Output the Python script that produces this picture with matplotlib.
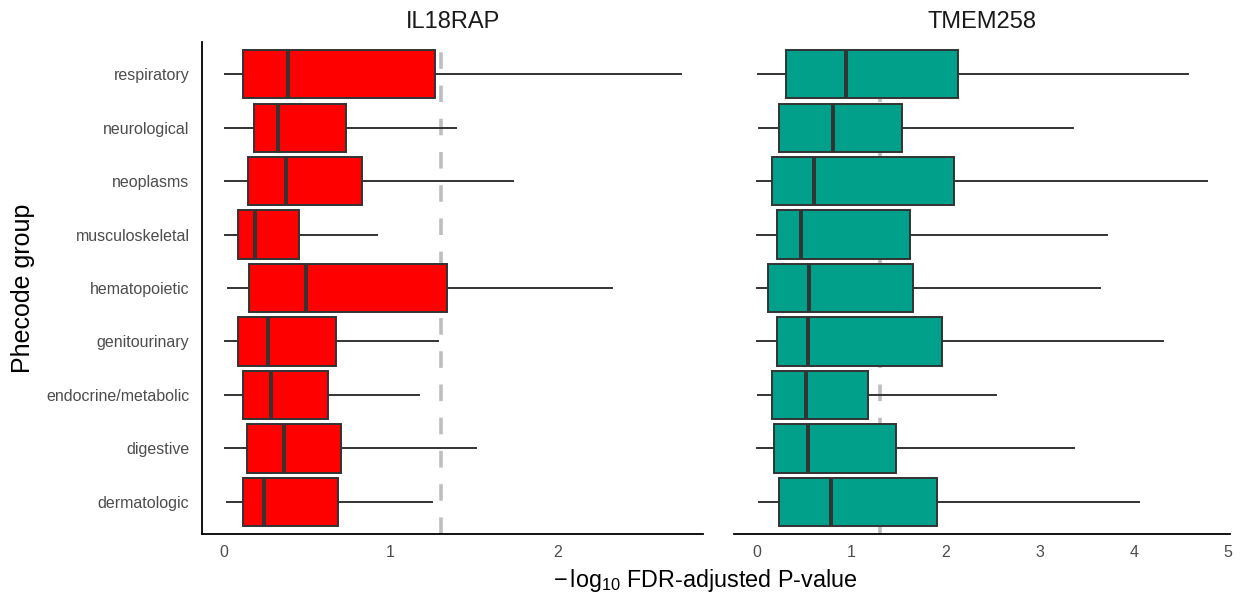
import matplotlib
matplotlib.use("Agg")
import matplotlib.pyplot as plt

plt.rcParams['font.family'] = ['Liberation Sans', 'DejaVu Sans']
plt.rcParams['mathtext.fontset'] = 'custom'
plt.rcParams['mathtext.rm'] = 'Liberation Sans'
plt.rcParams['mathtext.it'] = 'Liberation Sans:italic'
plt.rcParams['mathtext.bf'] = 'Liberation Sans:bold'

categories = ["dermatologic", "digestive", "endocrine/metabolic", "genitourinary",
              "hematopoietic", "musculoskeletal", "neoplasms", "neurological", "respiratory"]

panels = ["IL18RAP", "TMEM258"]

# IL18RAP summary statistics (order as categories, bottom to top)
il18_lo  = [0.019, 0.009, 0.009, 0.009, 0.027, 0.009, 0.009, 0.009, 0.009]
il18_q1  = [0.115, 0.142, 0.115, 0.085, 0.153, 0.085, 0.148, 0.181, 0.117]
il18_med = [0.240, 0.364, 0.284, 0.266, 0.492, 0.188, 0.376, 0.327, 0.384]
il18_q3  = [0.684, 0.703, 0.626, 0.672, 1.336, 0.454, 0.831, 0.731, 1.266]
il18_hi  = [1.246, 1.512, 1.172, 1.284, 2.324, 0.917, 1.735, 1.390, 2.740]

# TMEM258 summary statistics
tm_lo  = [0.018, 0.000, 0.004, 0.000, 0.000, 0.000, 0.000, 0.018, 0.004]
tm_q1  = [0.231, 0.177, 0.153, 0.213, 0.117, 0.213, 0.156, 0.227, 0.305]
tm_med = [0.786, 0.542, 0.514, 0.542, 0.546, 0.461, 0.599, 0.804, 0.943]
tm_q3  = [1.913, 1.474, 1.180, 1.963, 1.658, 1.619, 2.094, 1.538, 2.130]
tm_hi  = [4.056, 3.369, 2.533, 4.315, 3.645, 3.720, 4.779, 3.358, 4.577]

threshold = 1.30103  # -log10(0.05)
colors = ["#FF0000", "#00A08A"]
xticks_left = [0, 1, 2]
xticks_right = [0, 1, 2, 3, 4, 5]

W, H = 1252, 599
fig = plt.figure(figsize=(W / 100, H / 100), dpi=100)

def frac(x0, x1, y_top, y_bot):
    return [x0 / W, 1 - y_bot / H, (x1 - x0) / W, (y_bot - y_top) / H]

ax1 = fig.add_axes(frac(202, 703, 42, 534))
ax2 = fig.add_axes(frac(734, 1230, 42, 534))

edge = "#333333"

def draw(ax, lo, q1, med, q3, hi, color, xlim, xticks):
    stats = []
    for i, c in enumerate(categories):
        stats.append(dict(med=med[i], q1=q1[i], q3=q3[i], whislo=lo[i], whishi=hi[i],
                          fliers=[], label=c))
    ax.axvline(threshold, color="#BEBEBE", lw=2.6, linestyle=(0, (4.6, 4.6)), zorder=0.5)
    ax.bxp(stats, positions=range(1, len(categories) + 1), vert=False, widths=0.9,
           patch_artist=True, showcaps=False, showfliers=False,
           boxprops=dict(facecolor=color, edgecolor=edge, linewidth=1.4),
           medianprops=dict(color=edge, linewidth=2.8, solid_capstyle="butt"),
           whiskerprops=dict(color=edge, linewidth=1.4), manage_ticks=False)
    ax.set_xlim(*xlim)
    ax.set_ylim(0.4, len(categories) + 0.6)
    ax.set_xticks(xticks)
    ax.set_xticklabels([str(t) for t in xticks])
    for s in ["top", "right"]:
        ax.spines[s].set_visible(False)
    ax.spines["bottom"].set_linewidth(1.3)
    ax.spines["bottom"].set_color("black")
    ax.tick_params(axis="both", length=0, labelsize=11.5, labelcolor="#4D4D4D")
    ax.tick_params(axis="x", pad=8)
    ax.tick_params(axis="y", pad=9)

draw(ax1, il18_lo, il18_q1, il18_med, il18_q3, il18_hi, colors[0],
     (-0.1287, 2.871), xticks_left)
draw(ax2, tm_lo, tm_q1, tm_med, tm_q3, tm_hi, colors[1],
     (-0.2476, 5.023), xticks_right)

ax1.spines["left"].set_linewidth(1.3)
ax1.spines["left"].set_color("black")
ax1.set_yticks(range(1, len(categories) + 1))
ax1.set_yticklabels(categories)

ax2.spines["left"].set_visible(False)
ax2.set_yticks([])

ax1.set_title(panels[0], fontsize=17, color="#1A1A1A", pad=10)
ax2.set_title(panels[1], fontsize=17, color="#1A1A1A", pad=10)

fig.text(23 / W, 1 - 288 / H, "Phecode group", rotation=90,
         ha="center", va="center", fontsize=18)
fig.text(705 / W, 1 - 580 / H, r"$-\,\mathrm{log}_{10}$ FDR-adjusted P-value",
         ha="center", va="center", fontsize=16.8)

fig.savefig("out.png", dpi=100)
